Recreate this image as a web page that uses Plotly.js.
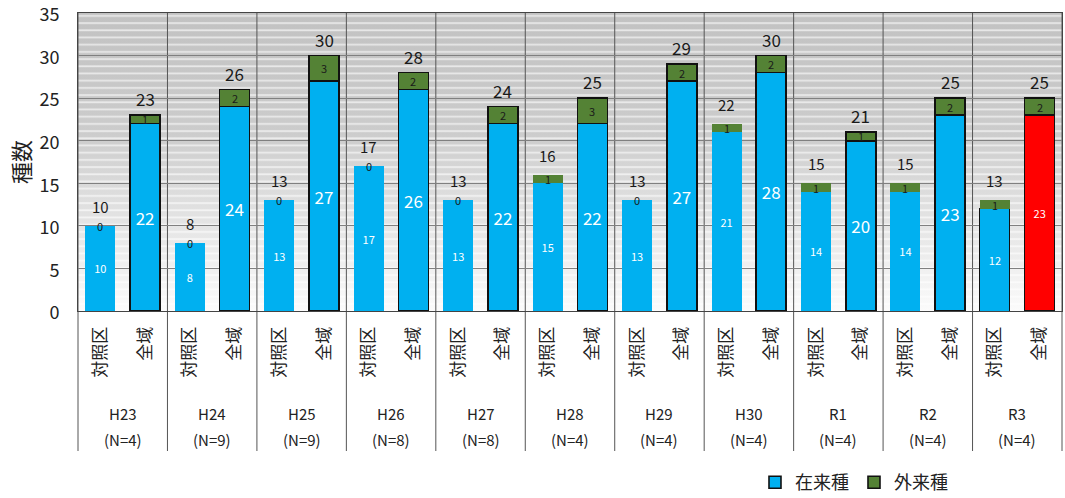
<!DOCTYPE html>
<html><head><meta charset="utf-8">
<script src="https://cdn.plot.ly/plotly-3.0.1.min.js"></script>
<style>html,body{margin:0;padding:0;background:#fff}#chart{width:1065px;height:498px}</style>
</head><body><div id="chart"></div>
<script>
// ---- data ----
const periods = ["H23","H24","H25","H26","H27","H28","H29","H30","R1","R2","R3"];
const sampleN = ["(N=4)","(N=9)","(N=9)","(N=8)","(N=8)","(N=4)","(N=4)","(N=4)","(N=4)","(N=4)","(N=4)"];
const areas = ["対照区","全域"];
const ctrlNative = [10, 8, 13, 17, 13, 15, 13, 21, 14, 14, 12];
const ctrlAlien  = [ 0, 0,  0,  0,  0,  1,  0,  1,  1,  1,  1];
const allNative  = [22, 24, 27, 26, 22, 22, 27, 28, 20, 23, 23];
const allAlien   = [ 1,  2,  3,  2,  2,  3,  2,  2,  1,  2,  2];
const yTicks = [0, 5, 10, 15, 20, 25, 30, 35];

// ---- build arrays (全域 first in each pair so the legend swatch gets an outline) ----
const BLUE = "#00b0f0", GREEN = "#548235", RED = "#ff0000";
const xs = [], nat = [], ali = [], natColor = [], natLineW = [], aliLineW = [], natFont = [], tickText = [], isAllArr = [];
periods.forEach((p, g) => {
  [[allNative[g], allAlien[g], 1], [ctrlNative[g], ctrlAlien[g], 0]].forEach(([n, a, k]) => {
    xs.push(2 * g + k);
    nat.push(n); ali.push(a);
    const highlight = (g === periods.length - 1 && k === 1);
    natColor.push(highlight ? RED : BLUE);
    natLineW.push(k === 1 ? 1.6 : (g === periods.length - 1 ? 1 : 0));
    aliLineW.push(k === 1 ? 1.6 : 0);
    natFont.push(k === 1 && !highlight ? 17 : 11);
    tickText.push(areas[k]);
    isAllArr.push(k === 1);
  });
});

const FONT = "'Noto Sans CJK JP', 'Noto Sans', sans-serif";

const traces = [
  {
    type: "bar", name: "在来種", x: xs, y: nat,
    marker: { color: natColor, line: { color: "#111", width: natLineW } },
    text: nat.map(String), textposition: "inside", insidetextanchor: "middle",
    constraintext: "none", textangle: 0,
    textfont: { color: "#ffffff", size: natFont, family: FONT },
    hoverinfo: "skip"
  },
  {
    type: "bar", name: "外来種", x: xs, y: ali,
    marker: { color: GREEN, line: { color: "#111", width: aliLineW } },
    hoverinfo: "skip"
  }
];

// ---- annotations ----
const ann = [];
xs.forEach((x, i) => {
  ann.push({ x: x, y: nat[i] + ali[i] / 2, xref: "x", yref: "y", text: String(ali[i]),
    showarrow: false, font: { size: 11, color: "#1a1a1a", family: FONT }, yanchor: "middle" });
  const isAll = isAllArr[i];
  ann.push({ x: x, y: nat[i] + ali[i], xref: "x", yref: "y", text: String(nat[i] + ali[i]),
    showarrow: false, yanchor: "bottom", yshift: isAll ? 2 : 7,
    font: { size: isAll ? 17 : 15, color: "#1a1a1a", family: FONT } });
});
periods.forEach((p, g) => {
  ann.push({ x: 2 * g + 0.5, xref: "x", yref: "paper", y: (311 - 413) / 298, yanchor: "middle",
    text: p, showarrow: false, font: { size: 15, color: "#222", family: FONT } });
  ann.push({ x: 2 * g + 0.5, xref: "x", yref: "paper", y: (311 - 440) / 298, yanchor: "middle",
    text: sampleN[g], showarrow: false, font: { size: 15, color: "#222", family: FONT } });
});

// ---- group divider lines ----
const shapes = [];
for (let g = 0; g <= periods.length; g++) {
  shapes.push({ type: "line", xref: "paper", yref: "paper", x0: g * 2 / 22, x1: g * 2 / 22,
    y0: 1, y1: (311 - 451) / 298, line: { color: "#555", width: 1 }, layer: "below" });
}

// ---- background (gradient + light stripes) ----
const bgSvg = "<svg xmlns='http://www.w3.org/2000/svg' width='984' height='298' viewBox='0 0 984 298' preserveAspectRatio='none'>" +
  "<defs><linearGradient id='g' x1='0' y1='0' x2='0' y2='1'>" +
  "<stop offset='0' stop-color='#c2c2c2'/><stop offset='0.4' stop-color='#cccccc'/>" +
  "<stop offset='0.65' stop-color='#e0e0e0'/><stop offset='1' stop-color='#fbfbfb'/></linearGradient>" +
  "<pattern id='p' width='20' height='7.2' patternUnits='userSpaceOnUse'><rect y='2' width='20' height='1.8' fill='#ffffff' fill-opacity='0.6'/></pattern></defs>" +
  "<rect width='984' height='298' fill='url(#g)'/><rect width='984' height='298' fill='url(#p)'/></svg>";
const bgUri = "data:image/svg+xml;charset=utf-8," + encodeURIComponent(bgSvg);

const layout = {
  width: 1065, height: 498,
  margin: { l: 78, r: 3, t: 13, b: 187, autoexpand: false },
  paper_bgcolor: "#ffffff", plot_bgcolor: "rgba(0,0,0,0)",
  barmode: "stack", bargap: 0.33,
  font: { family: FONT, color: "#222" },
  images: [{ source: bgUri, xref: "paper", yref: "paper", x: 0, y: 1, sizex: 1, sizey: 1,
    sizing: "stretch", xanchor: "left", yanchor: "top", layer: "below" }],
  xaxis: {
    range: [-0.5, 21.5], tickmode: "array", tickvals: xs, ticktext: tickText,
    tickangle: -90, tickfont: { size: 17, color: "#222" }, ticks: "", ticklabelstandoff: 8,
    showgrid: false, zeroline: false, showline: true, linecolor: "#444", linewidth: 1, mirror: true,
    fixedrange: true, automargin: false
  },
  yaxis: {
    range: [0, 35], tickmode: "array", tickvals: yTicks, ticktext: yTicks.map(String),
    gridcolor: "#808080", gridwidth: 1,
    tickfont: { size: 18, color: "#222" }, ticks: "", ticklabelstandoff: 14, ticklabeloverflow: "allow",
    ticklabelshift: 2,
    showline: true, linecolor: "#444", linewidth: 1, mirror: true, zeroline: false,
    title: { text: "種数", font: { size: 22, color: "#222" }, standoff: 2 },
    fixedrange: true, automargin: false
  },
  showlegend: true,
  legend: { orientation: "h", x: 0.688, xanchor: "left", y: (311 - 464) / 298, yanchor: "top",
    font: { size: 18, color: "#222" }, bgcolor: "rgba(0,0,0,0)", traceorder: "normal" },
  annotations: ann,
  shapes: shapes
};

Plotly.newPlot("chart", traces, layout, { displayModeBar: false, staticPlot: true });
</script>
</body></html>
